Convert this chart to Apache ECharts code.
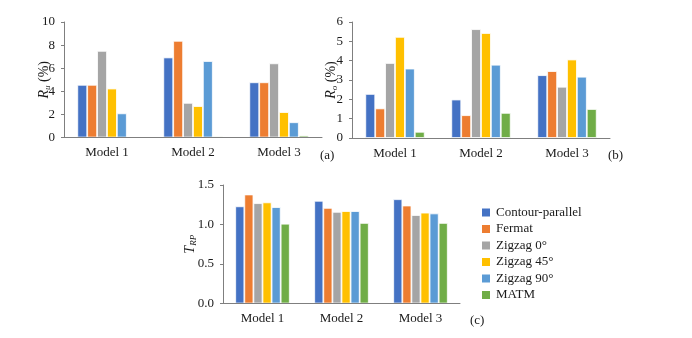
<!DOCTYPE html>
<html><head><meta charset="utf-8">
<script src="https://cdn.jsdelivr.net/npm/echarts@6/dist/echarts.min.js"></script>
<style>html,body{margin:0;padding:0;background:#fff}#c{width:692px;height:338px}</style>
</head><body><div id="c"></div>
<script>
const categories = ['Model 1', 'Model 2', 'Model 3'];
const seriesNames = ['Contour-parallel', 'Fermat', 'Zigzag 0°', 'Zigzag 45°', 'Zigzag 90°', 'MATM'];
const colors = ['#4472C4', '#ED7D31', '#A5A5A5', '#FFC000', '#5B9BD5', '#70AD47'];

// (a) R_u (%)
const ruContour = [4.56, 6.93, 4.78];
const ruFermat  = [4.56, 8.37, 4.78];
const ruZig0    = [7.50, 3.00, 6.42];
const ruZig45   = [4.24, 2.72, 2.20];
const ruZig90   = [2.09, 6.62, 1.32];
const ruMATM    = [0.00, 0.09, 0.17];

// (b) R_o (%)
const roContour = [2.28, 1.99, 3.25];
const roFermat  = [1.53, 1.18, 3.46];
const roZig0    = [3.88, 5.63, 2.65];
const roZig45   = [5.23, 5.43, 4.06];
const roZig90   = [3.59, 3.79, 3.17];
const roMATM    = [0.32, 1.30, 1.50];

// (c) T_RP
const trpContour = [1.23, 1.30, 1.32];
const trpFermat  = [1.38, 1.21, 1.24];
const trpZig0    = [1.27, 1.16, 1.12];
const trpZig45   = [1.28, 1.17, 1.15];
const trpZig90   = [1.22, 1.17, 1.14];
const trpMATM    = [1.01, 1.02, 1.02];

const ruSets = [ruContour, ruFermat, ruZig0, ruZig45, ruZig90, ruMATM];
const roSets = [roContour, roFermat, roZig0, roZig45, roZig90, roMATM];
const trpSets = [trpContour, trpFermat, trpZig0, trpZig45, trpZig90, trpMATM];

const FONT = 'Liberation Serif';
const TXT = '#1a1a1a';
const AX = '#7f7f7f';

function xAx(gi) {
  return {
    type: 'category', gridIndex: gi, data: categories, z: 5,
    axisLine: { lineStyle: { color: AX, width: 1 } },
    axisTick: { show: false },
    axisLabel: { fontFamily: FONT, fontSize: 13, color: TXT, margin: 9 }
  };
}
function yAx(gi, max, interval, nameRich, nameText, gap, fmt) {
  return {
    type: 'value', gridIndex: gi, min: 0, max: max, interval: interval, z: 5,
    splitLine: { show: false },
    axisLine: { show: true, lineStyle: { color: AX, width: 1 } },
    axisTick: { show: true, length: 3, inside: false, lineStyle: { color: AX } },
    axisLabel: { fontFamily: FONT, fontSize: 13, color: TXT, margin: 9, formatter: fmt },
    name: nameText, nameLocation: 'middle', nameGap: gap, nameRotate: 90,
    nameMoveOverlap: false,
    nameTextStyle: { fontFamily: FONT, fontSize: 14, color: TXT, rich: nameRich }
  };
}
const richName = {
  r: { fontFamily: FONT, fontStyle: 'italic', fontSize: 14, color: TXT },
  s: { fontFamily: FONT, fontStyle: 'italic', fontSize: 9, color: TXT, padding: [7, 0, 0, 0] },
  p: { fontFamily: FONT, fontSize: 14, color: TXT }
};

const series = [];
function addSeries(sets, gi) {
  sets.forEach((arr, i) => {
    series.push({
      name: seriesNames[i], type: 'bar', xAxisIndex: gi, yAxisIndex: gi,
      data: arr, barGap: '0%', barCategoryGap: '31%',
      itemStyle: { color: colors[i], borderColor: '#ffffff', borderWidth: 0.8 }
    });
  });
}
addSeries(ruSets, 0);
addSeries(roSets, 1);
addSeries(trpSets, 2);

const chart = echarts.init(document.getElementById('c'), null, { renderer: 'canvas' });
chart.setOption({
  animation: false,
  backgroundColor: '#ffffff',
  color: colors,
  grid: [
    { left: 64, top: 22, width: 258, height: 115.5 },
    { left: 352, top: 22, width: 258, height: 116 },
    { left: 223, top: 185, width: 237, height: 118.5 }
  ],
  xAxis: [xAx(0), xAx(1), xAx(2)],
  yAxis: [
    yAx(0, 10, 2, richName, '{r|R}{s|u}{p| (%)}', 12),
    yAx(1, 6, 1, richName, '{r|R}{s|o}{p| (%)}', 13),
    yAx(2, 1.5, 0.5, richName, '{r|T}{s|RP}', 25, v => v.toFixed(1))
  ],
  legend: {
    orient: 'vertical', left: 475, top: 201,
    itemWidth: 10, itemHeight: 10, itemGap: 3.5,
    data: seriesNames,
    textStyle: { fontFamily: FONT, fontSize: 13, color: TXT },
    icon: 'rect'
  },
  graphic: [
    { type: 'text', left: 320, top: 149, style: { text: '(a)', font: '13px "Liberation Serif"', fill: TXT } },
    { type: 'text', left: 608, top: 149, style: { text: '(b)', font: '13px "Liberation Serif"', fill: TXT } },
    { type: 'text', left: 470, top: 314, style: { text: '(c)', font: '13px "Liberation Serif"', fill: TXT } }
  ],
  series: series
});
</script></body></html>
